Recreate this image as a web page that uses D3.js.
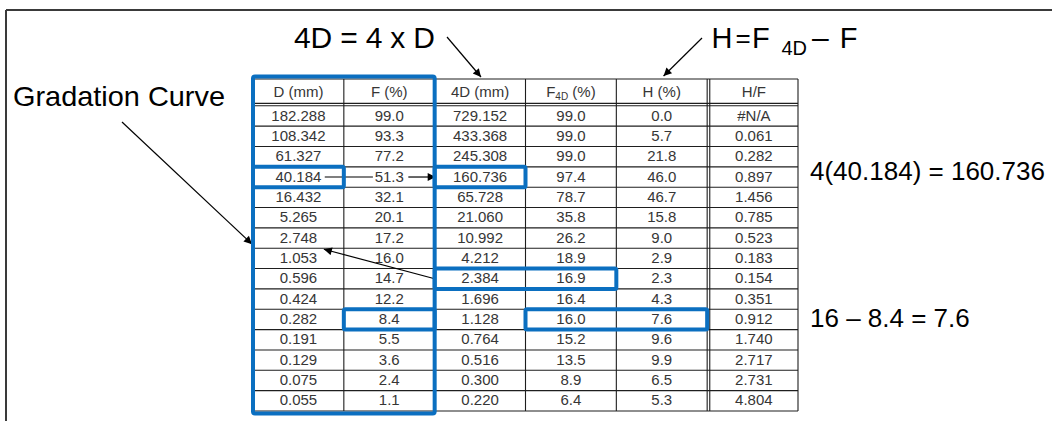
<!DOCTYPE html>
<html><head><meta charset="utf-8">
<script src="https://cdn.jsdelivr.net/npm/d3@7"></script>
<style>
html,body{margin:0;padding:0;background:#fff;}
svg{display:block;font-family:"Liberation Sans",Arial,sans-serif;}
</style>
</head><body>
<svg id="c" width="1052" height="421"></svg>
<script>
// ---- data ----
const columnKeys = ["D", "F", "D4", "F4D", "H", "HF"];
const columnLabels = ["D (mm)", "F (%)", "4D (mm)", "F4D (%)", "H (%)", "H/F"];
const D   = [182.288, 108.342, 61.327, 40.184, 16.432, 5.265, 2.748, 1.053, 0.596, 0.424, 0.282, 0.191, 0.129, 0.075, 0.055];
const F   = [99.0, 93.3, 77.2, 51.3, 32.1, 20.1, 17.2, 16.0, 14.7, 12.2, 8.4, 5.5, 3.6, 2.4, 1.1];
const D4  = [729.152, 433.368, 245.308, 160.736, 65.728, 21.060, 10.992, 4.212, 2.384, 1.696, 1.128, 0.764, 0.516, 0.300, 0.220];
const F4D = [99.0, 99.0, 99.0, 97.4, 78.7, 35.8, 26.2, 18.9, 16.9, 16.4, 16.0, 15.2, 13.5, 8.9, 6.4];
const H   = [0.0, 5.7, 21.8, 46.0, 46.7, 15.8, 9.0, 2.9, 2.3, 4.3, 7.6, 9.6, 9.9, 6.5, 5.3];
const HF  = [null, 0.061, 0.282, 0.897, 1.456, 0.785, 0.523, 0.183, 0.154, 0.351, 0.912, 1.740, 2.717, 2.731, 4.804];
const decimals = [3, 1, 3, 1, 1, 3];
// highlighted cells: [first column, last column, row]
const highlights = [["D", "D", 3], ["D4", "D4", 3], ["D4", "F4D", 8], ["F", "F", 10], ["F4D", "H", 10]];

const series = [D, F, D4, F4D, H, HF];
const rows = d3.range(D.length);

// ---- layout ----
const svg = d3.select("#c");
const x = d3.scaleBand().domain(columnKeys).range([253, 798]).padding(0);
const y = d3.scaleBand().domain(rows).range([105.8, 411]).padding(0);
const bw = x.bandwidth(), bh = y.bandwidth();
const headTop = 79, headBot = 103.4;
const blue = "#0B6FC0", lineCol = "#1e1e1e", txtCol = "#363636";

// outer frame
svg.append("line").attr("x1", 6).attr("x2", 1052).attr("y1", 10).attr("y2", 10).attr("stroke", "#3a3a3a").attr("stroke-width", 2);
svg.append("line").attr("x1", 6).attr("x2", 6).attr("y1", 10).attr("y2", 421).attr("stroke", "#3a3a3a").attr("stroke-width", 2);

// defs: arrowhead
svg.append("defs").append("marker")
  .attr("id", "ah").attr("viewBox", "0 0 10 10").attr("refX", 10).attr("refY", 5)
  .attr("markerWidth", 10).attr("markerHeight", 8).attr("markerUnits", "userSpaceOnUse")
  .attr("orient", "auto")
  .append("path").attr("d", "M0,0 L10,5 L0,10 Z").attr("fill", "#000");

const tbl = svg.append("g");
const left = x.range()[0], right = x.range()[1], bottom = y.range()[1];

// horizontal lines
const hl = [headTop, headBot].concat(rows.map(r => y(r))).concat([bottom]);
tbl.selectAll("line.h").data(hl).join("line")
  .attr("x1", left).attr("x2", right).attr("y1", d => d).attr("y2", d => d)
  .attr("stroke", lineCol).attr("stroke-width", 1.1);
// vertical lines
const vl = columnKeys.map(k => x(k)).concat([right, x("HF") + 2.6]);
tbl.selectAll("line.v").data(vl).join("line")
  .attr("y1", headTop).attr("y2", bottom).attr("x1", d => d).attr("x2", d => d)
  .attr("stroke", lineCol).attr("stroke-width", 1.1);

// header labels
columnKeys.forEach((k, i) => {
  const t = tbl.append("text").attr("x", x(k) + bw / 2 + (k === "HF" ? 1.3 : 0)).attr("y", (headTop + headBot) / 2 + 5.8)
    .attr("text-anchor", "middle").attr("font-size", 15).attr("fill", txtCol);
  if (k === "F4D") {
    t.append("tspan").text("F");
    t.append("tspan").attr("font-size", 10).attr("dy", 3).text("4D");
    t.append("tspan").attr("dy", -3).text(" (%)");
  } else {
    t.text(columnLabels[i]);
  }
});

// cells
columnKeys.forEach((k, i) => {
  tbl.selectAll("text.c" + k).data(rows).join("text")
    .attr("x", x(k) + bw / 2 + (k === "HF" ? 1.3 : 0))
    .attr("y", r => y(r) + bh / 2 + 4.6)
    .attr("text-anchor", "middle").attr("font-size", 15).attr("fill", txtCol)
    .text(r => series[i][r] === null ? "#N/A" : d3.format("." + decimals[i] + "f")(series[i][r]));
});

// arrows
const g = svg.append("g").attr("stroke", "#000").attr("stroke-width", 1.2).attr("fill", "none");
const r3 = y(3) + bh / 2;
g.append("line").attr("x1", x("D") + bw * 0.79).attr("x2", x("F") + bw * 0.32).attr("y1", r3).attr("y2", r3);
g.append("line").attr("x1", x("F") + bw * 0.71).attr("x2", x("D4") + 1).attr("y1", r3).attr("y2", r3).attr("marker-end", "url(#ah)");
// 2.384 -> 1.053
g.append("line").attr("x1", x("D4")).attr("y1", y(8) + bh / 2).attr("x2", x("D") + bw * 0.78).attr("y2", y(7) + 1).attr("marker-end", "url(#ah)");
// Gradation curve arrow
g.append("line").attr("x1", 122).attr("y1", 122).attr("x2", left - 1).attr("y2", y(6) + bh * 0.8).attr("marker-end", "url(#ah)");
// 4D arrow
g.append("line").attr("x1", 447).attr("y1", 37).attr("x2", x("D4") + bw * 0.51).attr("y2", headTop - 2).attr("marker-end", "url(#ah)");
// H arrow
g.append("line").attr("x1", 702).attr("y1", 38).attr("x2", x("H") + bw * 0.52).attr("y2", headTop - 3).attr("marker-end", "url(#ah)");

// blue boxes
const bb = svg.append("g").attr("stroke", blue).attr("stroke-width", 4).attr("fill", "none");
bb.append("rect").attr("x", x("D")).attr("y", headTop - 2.5).attr("width", x("F") + bw - x("D")).attr("height", bottom + 2.5 - (headTop - 2.5)).attr("rx", 2);
bb.selectAll("rect.hi").data(highlights).join("rect")
  .attr("x", d => x(d[0])).attr("y", d => y(d[2]))
  .attr("width", d => x(d[1]) + bw - x(d[0])).attr("height", bh).attr("rx", 1.5);

// annotation texts
const ann = svg.append("g").attr("fill", "#000");
ann.append("text").attr("x", 13).attr("y", 106).attr("font-size", 28)
  .attr("textLength", 212).attr("lengthAdjust", "spacingAndGlyphs").text("Gradation Curve");
ann.append("text").attr("x", 294).attr("y", 48).attr("font-size", 30)
  .attr("textLength", 141).attr("lengthAdjust", "spacing").text("4D = 4 x D");
// H = F4D – F (pieces placed one after another)
const eq = [
  { t: "H",  x: 711.5, y: 47.5, s: 29 },
  { t: "=",  x: 735.6, y: 47,   s: 26 },
  { t: "F",  x: 752,   y: 47.5, s: 29 },
  { t: "4D", x: 781.5, y: 55,   s: 20 },
  { t: "–",  x: 812,   y: 47.5, s: 30 },
  { t: "F",  x: 839.8, y: 47.5, s: 29 }
];
ann.selectAll("text.eq").data(eq).join("text")
  .attr("x", d => d.x).attr("y", d => d.y).attr("font-size", d => d.s).text(d => d.t);
ann.append("text").attr("x", 810).attr("y", 180).attr("font-size", 26).text("4(40.184) = 160.736");
ann.append("text").attr("x", 810).attr("y", 326.5).attr("font-size", 26).text("16 – 8.4 = 7.6");
</script>
</body></html>
